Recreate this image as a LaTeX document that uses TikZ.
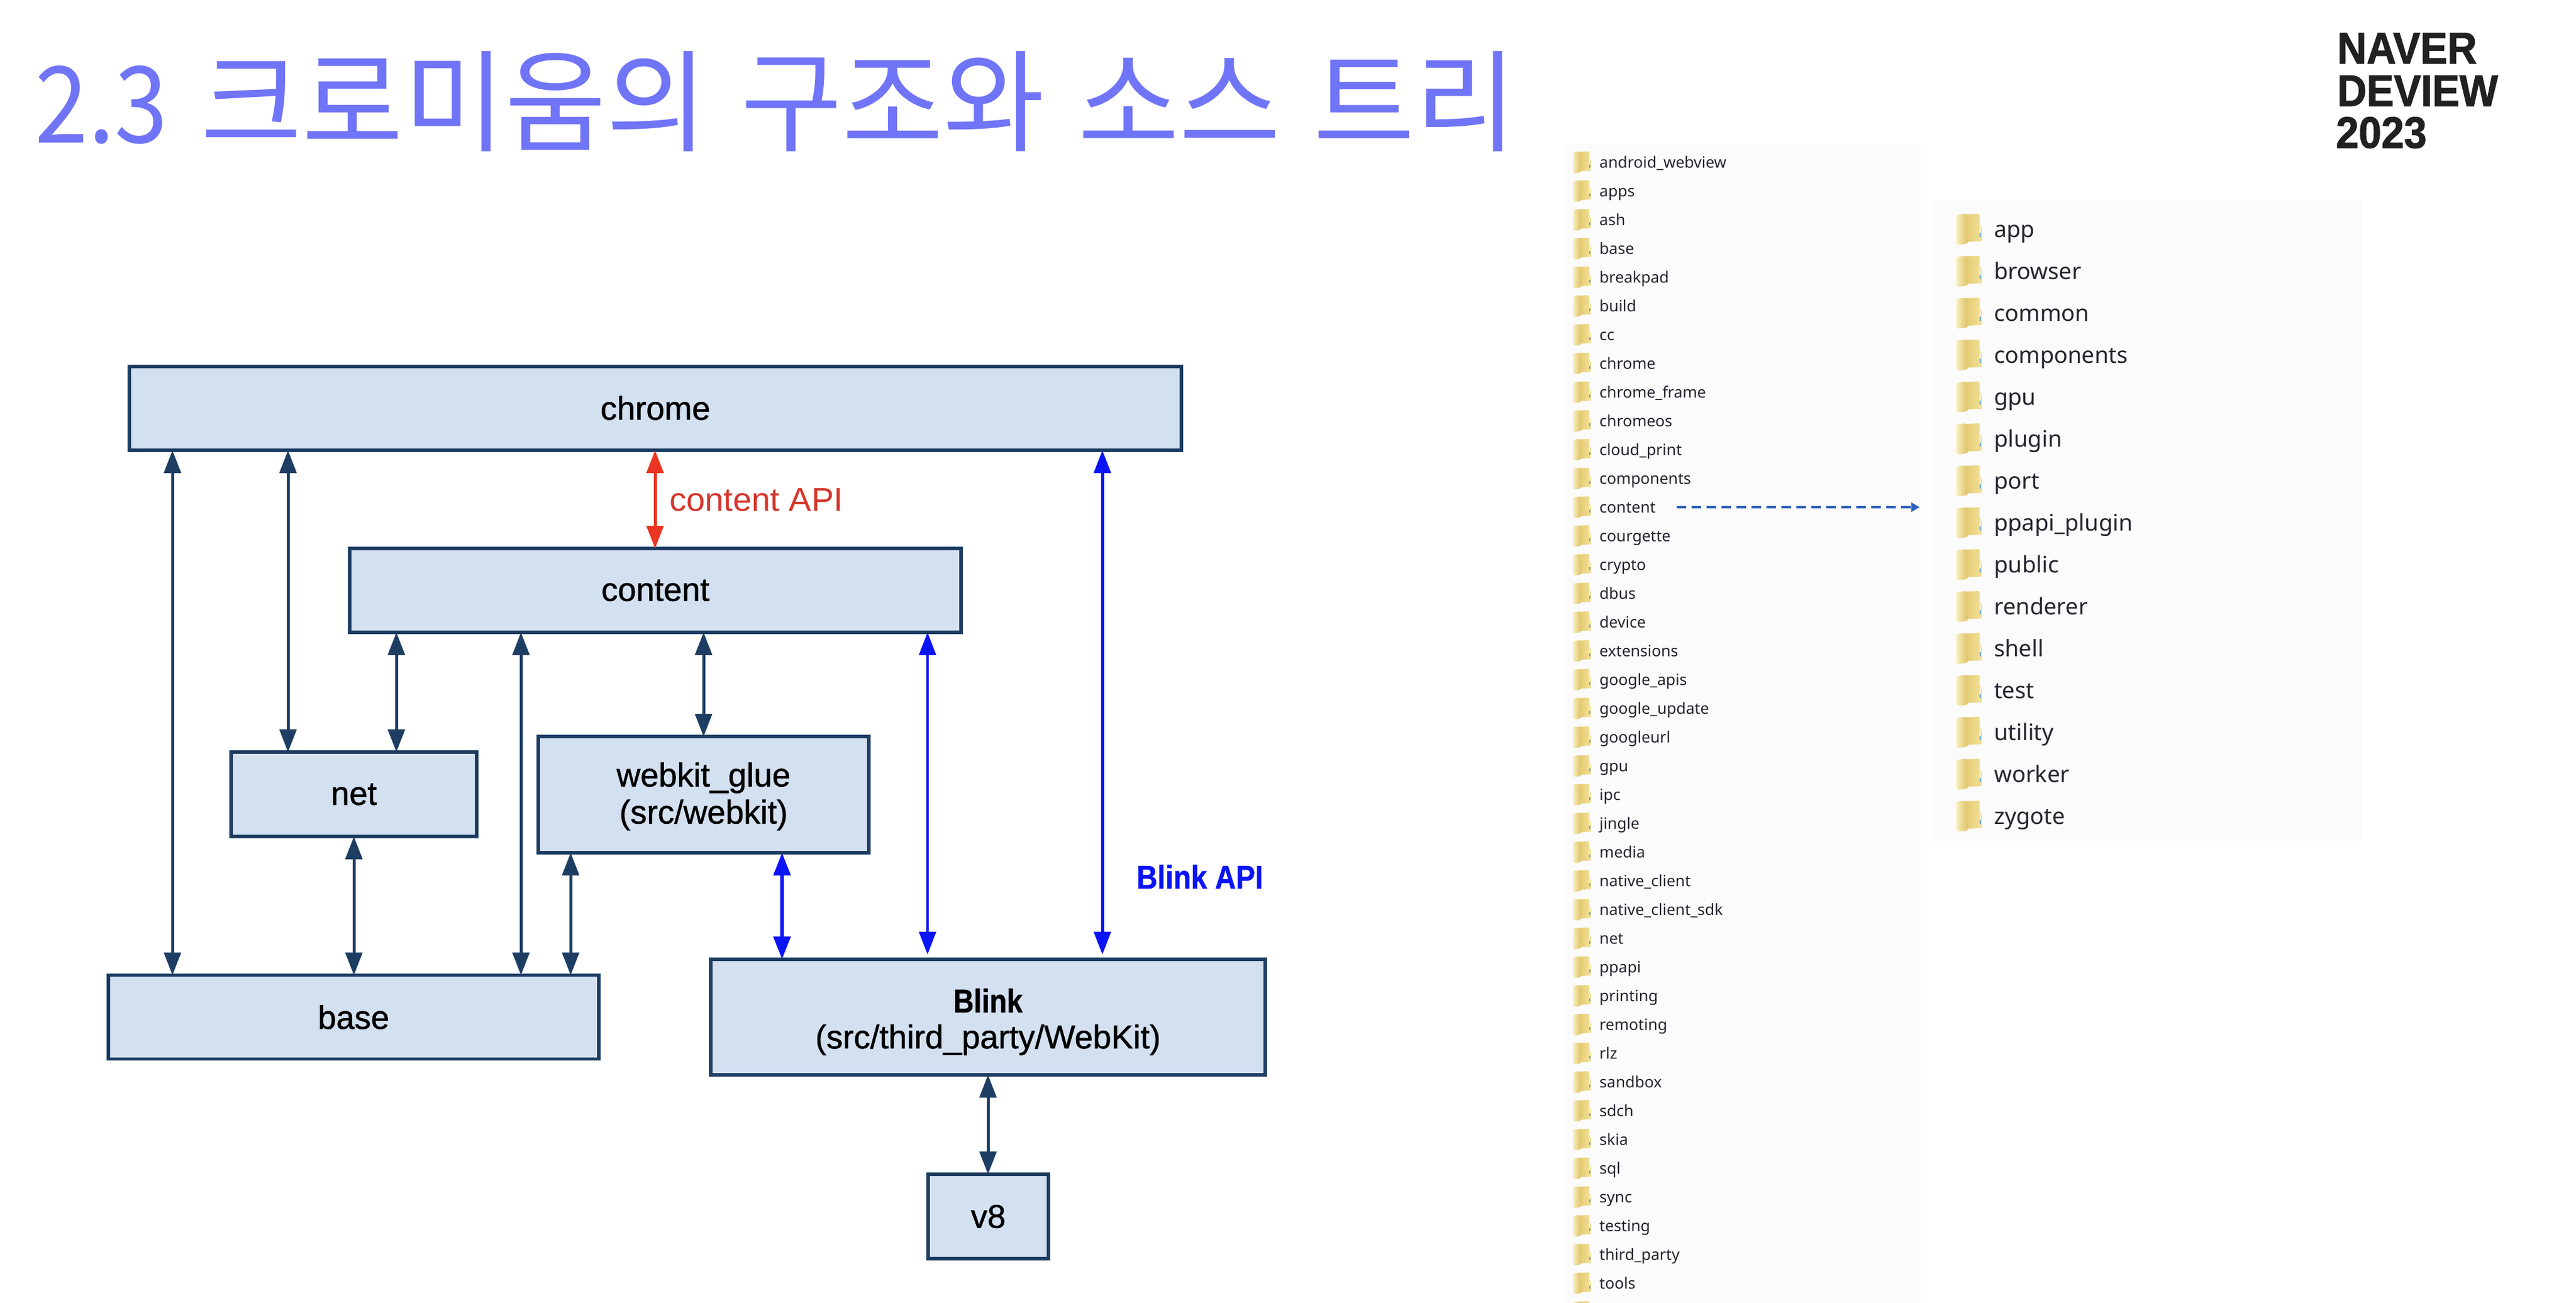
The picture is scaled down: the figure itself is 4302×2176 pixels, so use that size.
\documentclass[tikz,border=0pt]{standalone}
\usepackage{fontspec}
\setmainfont{Liberation Sans}
\newfontfamily\krfont{Noto Sans CJK KR}
\newfontfamily\listfont{Noto Sans}
\newfontfamily\boldish[FakeBold=1]{Liberation Sans}
\newfontfamily\logofont[FakeBold=1.5]{Liberation Sans Bold}
\newfontfamily\blinkfont[FakeBold=1]{Liberation Sans Bold}
\usetikzlibrary{arrows.meta,positioning,calc}
\definecolor{boxfill}{HTML}{D3E0F0}
\definecolor{navy}{HTML}{1D3D62}
\definecolor{vblue}{HTML}{0A14F5}
\definecolor{vred}{HTML}{E93522}
\definecolor{redtxt}{HTML}{D5352A}
\definecolor{titleblue}{HTML}{7074F6}
\definecolor{panel}{HTML}{FBFBFC}
\definecolor{dashblue}{HTML}{2F62BE}
\definecolor{logo}{HTML}{212121}
\definecolor{listtxt}{HTML}{25252F}
\tikzset{
  comp/.style={draw=navy,line width=5.5pt,fill=boxfill,inner sep=0pt,outer sep=0pt,align=center,
    font=\fontsize{55}{60}\boldish,text=black},
  navylink/.style={draw=navy,line width=5pt,{Triangle[length=38pt,width=28pt]}-{Triangle[length=38pt,width=28pt]},fill=navy},
  bluelink/.style={navylink,draw=vblue,fill=vblue},
  redlink/.style={navylink,draw=vred,fill=vred},
  apilabel/.style={inner sep=0pt,anchor=west,font=\fontsize{55}{60}\selectfont},
  logotext/.style={inner sep=0pt,anchor=base west,text=logo,font=\fontsize{74}{74}\logofont},
  smallitem/.style={inner sep=0pt,anchor=base west,text=listtxt,font=\fontsize{26}{26}\listfont},
  bigitem/.style={inner sep=0pt,anchor=base west,text=listtxt,font=\fontsize{38}{38}\listfont},
}
\newcommand{\folderico}[3]{%
  \begin{scope}[shift={(#1,#2)},scale=#3,rounded corners=2pt]
    \path[left color=FolderB,right color=FolderC]
      (14,1) -- (39,0) -- (39,20) -- (43,21) -- (43,46) -- (14,47) -- cycle;
    \path[left color=FolderA,right color=FolderD]
      (0,2) -- (17,0) -- (19,50) -- (2,52) -- (0,49) -- cycle;
    \path[fill=FolderE,rounded corners=0pt] (38.5,22) rectangle (40.5,32);
    \path[fill=FolderF,rounded corners=0pt] (38.5,32) rectangle (41,39);
  \end{scope}}
\definecolor{FolderA}{HTML}{F9F0BC}
\definecolor{FolderB}{HTML}{E3C96F}
\definecolor{FolderC}{HTML}{F3E29B}
\definecolor{FolderD}{HTML}{DDC168}
\definecolor{FolderE}{HTML}{FBF7E0}
\definecolor{FolderF}{HTML}{5FA8D8}
\begin{document}
\begin{tikzpicture}[x=1pt,y=-1pt]
\useasboundingbox (0,0) rectangle (4302,2176);
\fill[white] (0,0) rectangle (4302,2176);

% title
\node[inner sep=0pt,anchor=base west,text=titleblue,xscale=1.045,yscale=1.05,font=\fontsize{176}{176}\krfont] (title) at (58,238)
  {\scalebox{.87}[.96]{2.3}\hspace{53pt}크로미움의\hspace{53pt}구조와\hspace{53pt}소스\hspace{53pt}트리};

% logo
\node[logotext,xscale=.92] (lgA) at (3903,106) {NAVER};
\node[logotext,xscale=.92] (lgB) at (3903,177) {DEVIEW};
\node[logotext,xscale=.92] (lgC) at (3901,247) {2023};

% diagram boxes
\node[comp,minimum width=1757pt,minimum height=140pt] (chrome) at (1094.5,682) {\raisebox{2pt}{chrome}};
\node[comp,minimum width=1021pt,minimum height=140pt] (content) at (1094.5,986) {content};
\node[comp,minimum width=410pt,minimum height=141pt] (net) at (591,1326.5) {net};
\node[comp,minimum width=552pt,minimum height=194pt] (glue) at (1175,1327) {\rule{0pt}{46pt}webkit\_glue\\[2pt](src/webkit)};
\node[comp,minimum width=819pt,minimum height=140pt] (base) at (590.5,1698.5) {base};
\node[comp,minimum width=926pt,minimum height=193pt] (blink) at (1650,1698.5) {\rule{0pt}{56pt}\scalebox{.86}[1]{\blinkfont Blink}\\(src/third\_party/WebKit)};
\node[comp,minimum width=201pt,minimum height=141pt] (veight) at (1650.5,2031.5) {v8};

% connectors
\draw[navylink] (chrome.south -| 288,0) -- (base.north -| 288,0);
\draw[navylink] (chrome.south -| 481,0) -- (net.north -| 481,0);
\draw[redlink] (chrome.south -| 1094,0) -- (content.north -| 1094,0);
\draw[bluelink,shorten >=8pt] (chrome.south -| 1841,0) -- (blink.north -| 1841,0);
\draw[navylink] (content.south -| 662,0) -- (net.north -| 662,0);
\draw[navylink] (content.south -| 870,0) -- (base.north -| 870,0);
\draw[navylink] (content.south -| 1175,0) -- (glue.north -| 1175,0);
\draw[bluelink,line width=4.5pt,shorten >=8pt] (content.south -| 1549,0) -- (blink.north -| 1549,0);
\draw[navylink] (net.south -| 591,0) -- (base.north -| 591,0);
\draw[navylink] (glue.south -| 953,0) -- (base.north -| 953,0);
\draw[bluelink,line width=6pt] (glue.south -| 1306,0) -- (blink.north -| 1306,0);
\draw[navylink] (blink.south -| 1650,0) -- (veight.north -| 1650,0);

% API labels
\node[apilabel,text=redtxt,xscale=1.02] (capi) at (1118,835) {content API};
\node[apilabel,text=vblue,font=\fontsize{55}{60}\blinkfont,xscale=.875] (bapi) at (1898,1464) {Blink API};

% list panels
\fill[panel] (2612,240) rectangle (3207,2176);
\fill[panel] (3226,336) rectangle (3944,1404);

\foreach \name [count=\i from 0] in {android\_webview,apps,ash,base,breakpad,build,cc,chrome,chrome\_frame,chromeos,cloud\_print,components,content,courgette,crypto,dbus,device,extensions,google\_apis,google\_update,googleurl,gpu,ipc,jingle,media,native\_client,native\_client\_sdk,net,ppapi,printing,remoting,rlz,sandbox,sdch,skia,sql,sync,testing,third\_party,tools}{
  \pgfmathsetmacro{\ry}{271+48*\i}
  \folderico{2627}{\ry-18}{0.7}
  \node[smallitem] (left\i) at (2671,\ry+9) {\name};
}
\folderico{2627}{2173}{0.7}

\foreach \name [count=\i from 0] in {app,browser,common,components,gpu,plugin,port,ppapi\_plugin,public,renderer,shell,test,utility,worker,zygote}{
  \pgfmathsetmacro{\ry}{384+70*\i}
  \folderico{3267}{\ry-27}{1}
  \node[bigitem] (right\i) at (3330,\ry+12) {\name};
}

% dashed arrow
\coordinate (dashS) at (2800,847);
\coordinate (dashE) at (3206,847);
\draw[dashblue,line width=4pt,dash pattern=on 16pt off 9pt,-{Triangle[length=14pt,width=15pt]}] (dashS) -- (dashE);
\end{tikzpicture}
\end{document}
